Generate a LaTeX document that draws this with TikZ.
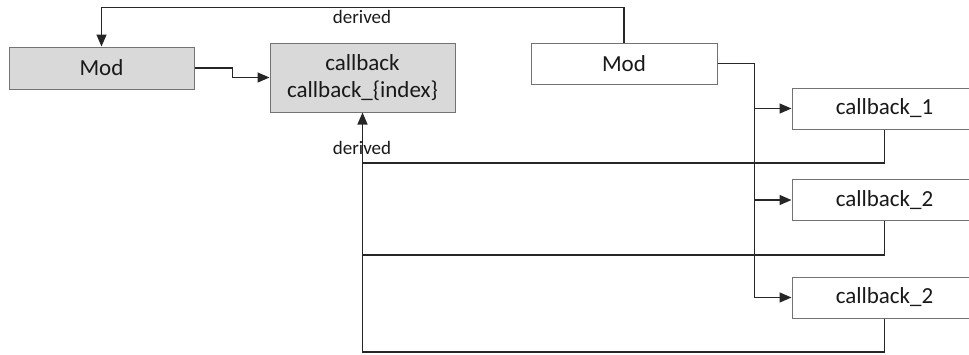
\documentclass[tikz,border=0pt]{standalone}
\usepackage{fontspec}
\setmainfont{Carlito}
\usetikzlibrary{arrows.meta}
\begin{document}
\begin{tikzpicture}[x=1pt,y=-1pt,
  box/.style={draw=black!55, line width=1pt, inner sep=0pt, align=center,
    font=\fontsize{23}{27}\selectfont, text=black!90},
  grey/.style={box, fill=black!15},
  wire/.style={draw=black!85, line width=1.4pt},
  arr/.style={wire, -{Triangle[length=12pt,width=10pt]}},
  lbl/.style={font=\fontsize{19}{22}\selectfont, text=black!90, inner sep=0pt}]
\useasboundingbox (0,0) rectangle (969,354);
\node[grey, minimum width=185, minimum height=42] (modL) at (101.5,68) {Mod};
\node[grey, minimum width=185, minimum height=69] (cb) at (362.5,77.5) {callback\\callback\_\{index\}};
\node[box, fill=white, minimum width=186, minimum height=41] (modR) at (624,63.5) {Mod};
\node[box, fill=white, minimum width=185, minimum height=41] (c1) at (884.5,108.5) {callback\_1};
\node[box, fill=white, minimum width=185, minimum height=41] (c2) at (884.5,200) {callback\_2};
\node[box, fill=white, minimum width=185, minimum height=41] (c3) at (884.5,297.5) {callback\_2};
% derived from right Mod to left Mod
\draw[arr] (modR.north) -- ++(0,-35) -| (modL.north);
\node[lbl] (d1) at (362,17) {derived};
% left Mod to callback
\draw[arr] (modL.east) -- ++(38,0) |- (cb.west);
% trunk from right Mod
\draw[wire] (modR.east) -- ++(37,0) coordinate (t);
\draw[arr] (t) |- (c1.west);
\draw[arr] (t) |- (c2.west);
\draw[arr] (t) |- (c3.west);
% returns
\node[lbl] (d2) at (362,148) {derived};
\draw[wire] (c1.south) |- (cb.south |- 0,163);
\draw[wire] (c2.south) |- (cb.south |- 0,255);
\draw[arr] (c3.south) |- (cb.south |- 0,352) -- (cb.south);
\end{tikzpicture}
\end{document}
